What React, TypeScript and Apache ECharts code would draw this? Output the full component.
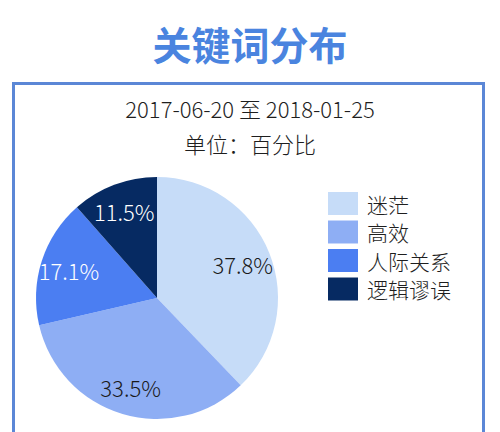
import { useEffect, useRef } from "react";
import * as echarts from "echarts";

const KEYWORDS = ["迷茫", "高效", "人际关系", "逻辑谬误"];
const SHARES = [37.8, 33.5, 17.1, 11.5];

const SLICE_COLORS = ["#c6dcf8", "#8eaef4", "#4b7ef2", "#062a62"];
const LABEL_COLORS = ["#1a1a1a", "#1a1a1a", "#ffffff", "#ffffff"];

const FONT = "'Noto Sans CJK SC', 'Noto Sans', sans-serif";

export default function App() {
  const chartRef = useRef<HTMLDivElement>(null);

  useEffect(() => {
    if (!chartRef.current) return;
    const chart = echarts.init(chartRef.current, null, { renderer: "svg" });

    chart.setOption({
      animation: false,
      backgroundColor: "#ffffff",
      textStyle: { fontFamily: FONT },
      title: [
        {
          text: "关键词分布",
          left: "center",
          top: 18,
          textStyle: { fontSize: 39, fontWeight: "bold", color: "#4a84df", fontFamily: FONT },
        },
        {
          text: "2017-06-20 至 2018-01-25",
          left: "center",
          top: 92,
          textStyle: { fontSize: 22, fontWeight: 300, color: "#1e1e1e", fontFamily: FONT },
        },
        {
          text: "单位：百分比",
          left: "center",
          top: 127,
          textStyle: { fontSize: 22, fontWeight: 300, color: "#1e1e1e", fontFamily: FONT },
        },
      ],
      graphic: [
        {
          type: "rect",
          shape: { x: 13.5, y: 83.5, width: 470, height: 400 },
          style: { fill: "none", stroke: "#5b87d6", lineWidth: 3 },
          z: -1,
        },
      ],
      legend: {
        orient: "vertical",
        left: 323,
        top: 187,
        itemWidth: 30,
        itemHeight: 23,
        itemGap: 5.5,
        icon: "rect",
        data: KEYWORDS,
        selectedMode: false,
        textStyle: {
          fontSize: 21,
          fontWeight: 300,
          color: "#1e1e1e",
          fontFamily: FONT,
          padding: [0, 0, 0, 4],
        },
      },
      series: [
        {
          type: "pie",
          center: [157, 298],
          radius: [0, 121],
          startAngle: 90,
          clockwise: true,
          label: { show: false },
          labelLine: { show: false },
          itemStyle: { borderWidth: 0 },
          emphasis: { disabled: true },
          data: KEYWORDS.map((name, i) => ({
            name,
            value: SHARES[i],
            itemStyle: { color: SLICE_COLORS[i] },
          })),
        },
        {
          type: "pie",
          center: [157, 298],
          radius: [58, 121],
          startAngle: 90,
          clockwise: true,
          silent: true,
          labelLine: { show: false },
          itemStyle: { color: "transparent", borderWidth: 0 },
          emphasis: { disabled: true },
          label: {
            show: true,
            position: "inside",
            formatter: "{c}%",
            fontSize: 22,
            fontWeight: 300,
            fontFamily: FONT,
          },
          data: KEYWORDS.map((name, i) => ({
            name,
            value: SHARES[i],
            label: { color: LABEL_COLORS[i] },
          })),
        },
      ],
    });

    return () => chart.dispose();
  }, []);

  return (
    <div
      ref={chartRef}
      style={{ position: "absolute", left: 0, top: 0, width: "500px", height: "432px" }}
    />
  );
}
